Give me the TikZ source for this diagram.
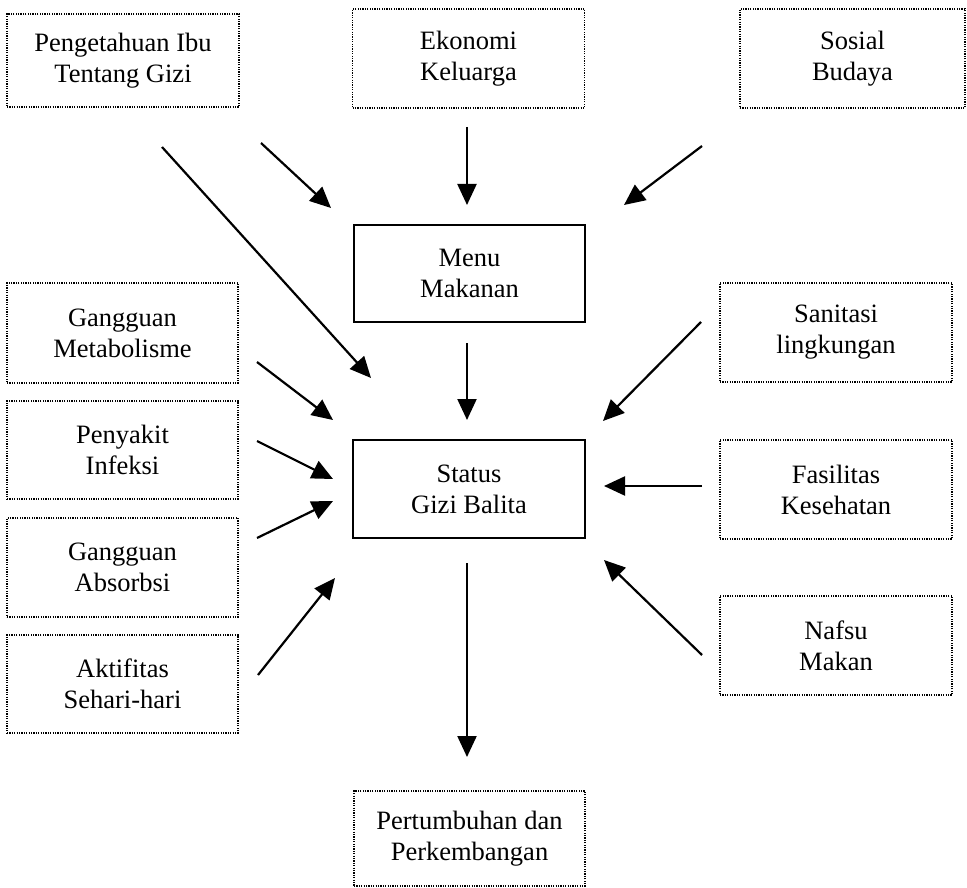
\documentclass[tikz,border=0pt]{standalone}
\usepackage{fontspec}
\setmainfont{Liberation Serif}
\usetikzlibrary{arrows.meta}

\begin{document}
\begin{tikzpicture}[
x=1pt, y=-1pt,
>={Triangle[length=21pt,width=19pt]},
box/.style={rectangle,inner sep=0,align=center,minimum width=232pt,minimum height=98pt,
  font=\fontsize{26.5}{31}\selectfont},
factor/.style={box,draw,line width=1.6pt,dash pattern=on 1.2pt off 1.2pt},
core/.style={box,draw,line width=1.9pt},
line/.style={draw,line width=2.2pt,->}
]
\useasboundingbox (0,0) rectangle (967,888);

% boxes
\node[factor,minimum height=93pt] (peng) at (123,60.5) {Pengetahuan Ibu\\Tentang Gizi};
\node[factor,minimum height=99pt] (ekon) at (468.5,58.5) {Ekonomi\\Keluarga};
\node[factor,minimum width=225pt,minimum height=99pt] (sos) at (852.5,58.5) {Sosial\\Budaya};
\node[core,minimum width=231pt,minimum height=97pt] (menu) at (469.5,273.5) {Menu\\Makanan};

\node[factor,minimum width=231pt,minimum height=100pt] (meta) at (122.5,333) {Gangguan\\Metabolisme};
\node[factor,minimum width=231pt] (peny) at (122.5,450) {Penyakit\\Infeksi};
\node[factor,minimum width=231pt,minimum height=99pt] (abso) at (122.5,567.5) {Gangguan\\Absorbsi};
\node[factor,minimum width=231pt] (akti) at (122.5,684) {Aktifitas\\Sehari-hari};

\node[factor,minimum height=99pt] (sani) at (836,332.5) {Sanitasi\\lingkungan};
\node[factor,minimum height=99pt] (fasi) at (836,489.5) {Fasilitas\\Kesehatan};
\node[factor,minimum height=99pt] (nafs) at (836,645.5) {Nafsu\\Makan};

\node[core] (stat) at (469,489) {Status\\Gizi Balita};
\node[factor,minimum width=231pt,minimum height=95pt] (pert) at (469.5,838.5) {Pertumbuhan dan\\Perkembangan};

% arrow ends
\coordinate (peng1) at (261,143);  \coordinate (peng1e) at (331,208);
\coordinate (peng2) at (162,147);  \coordinate (peng2e) at (371,378);
\coordinate (ekon1) at (467,127);  \coordinate (ekon1e) at (467,205);
\coordinate (sos1) at (702,146);   \coordinate (sos1e) at (624,205);
\coordinate (menu1) at (467,343);  \coordinate (menu1e) at (467,420);
\coordinate (meta1) at (257,362);  \coordinate (meta1e) at (333,420);
\coordinate (peny1) at (257,441);  \coordinate (peny1e) at (333,479);
\coordinate (abso1) at (257,538);  \coordinate (abso1e) at (333,501);
\coordinate (akti1) at (258,675);  \coordinate (akti1e) at (335,578);
\coordinate (sani1) at (701,322);  \coordinate (sani1e) at (603,421);
\coordinate (fasi1) at (702,486);  \coordinate (fasi1e) at (604,486);
\coordinate (nafs1) at (702,655);  \coordinate (nafs1e) at (604,560);
\coordinate (stat1) at (467,563);  \coordinate (stat1e) at (467,757);

\path[line] (peng1) -- (peng1e);
\path[line] (peng2) -- (peng2e);
\path[line] (ekon1) -- (ekon1e);
\path[line] (sos1) -- (sos1e);
\path[line] (menu1) -- (menu1e);
\path[line] (meta1) -- (meta1e);
\path[line] (peny1) -- (peny1e);
\path[line] (abso1) -- (abso1e);
\path[line] (akti1) -- (akti1e);
\path[line] (sani1) -- (sani1e);
\path[line] (fasi1) -- (fasi1e);
\path[line] (nafs1) -- (nafs1e);
\path[line] (stat1) -- (stat1e);

\end{tikzpicture}
\end{document}
